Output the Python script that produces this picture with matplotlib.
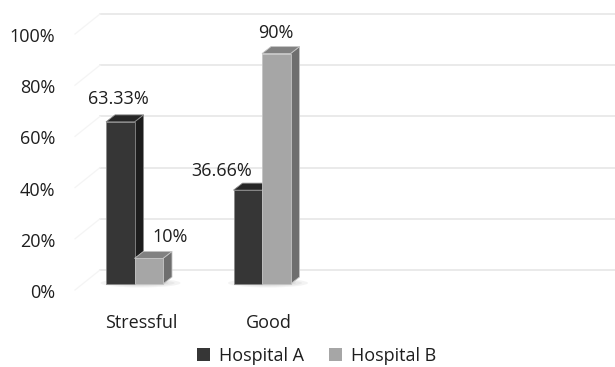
import matplotlib.pyplot as plt
from matplotlib.patches import Polygon, Ellipse

plt.rcParams['font.family'] = ['Open Sans', 'DejaVu Sans']

categories = ['Stressful', 'Good']
hospital_a = [63.33, 36.66]
hospital_b = [10, 90]
labels_a = ['63.33%', '36.66%']
labels_b = ['10%', '90%']
y_ticks = [0, 20, 40, 60, 80, 100]

# pixels per data unit (x: one category, y: one percent)
PX_X = 127.5
PX_Y = 2.56
BAR_W = 28.5 / PX_X
DEPTH_X = 9 / PX_X
DEPTH_Y = 7 / PX_Y

COL_A = ('#363636', '#262626', '#1d1d1d')   # front, top, side
COL_B = ('#a6a6a6', '#818181', '#6e6e6e')
TEXT = '#1e1e1e'

# label shifts in pixels, Excel 3D charts place them a bit off centre
shift_a = [(-2, 23), (-26, 19)]
shift_b = [(21, 21), (0, 21)]

fig = plt.figure(figsize=(6.15, 3.67), dpi=100)
ax = fig.add_axes([0, 0, 1, 1])
ax.set_xlim(-134.5 / PX_X, (615 - 134.5) / PX_X)
ax.set_ylim(-(367 - 284) / PX_Y, 284 / PX_Y)
ax.axis('off')

# back wall gridlines plus the faint side wall strokes
wall_x = (100 - 134.5) / PX_X
side_x = (75 - 134.5) / PX_X
for t in y_ticks:
    yb = t + 14 / PX_Y
    ax.plot([wall_x, ax.get_xlim()[1]], [yb, yb], color='#e4e4e4', lw=1.1, zorder=1)
    ax.plot([side_x, wall_x], [yb - 20 / PX_Y, yb], color='#f4f4f4', lw=0.9, zorder=1)
    ax.text(-79 / PX_X, t - 3.5, '%d%%' % t, ha='right', va='center',
            fontsize=13, color=TEXT)

x = list(range(len(categories)))

# soft shadows on the floor under each group
for i in x:
    for k, a in enumerate([0.08, 0.08, 0.1]):
        ax.add_patch(Ellipse((i + 6 / PX_X, 1 / PX_Y), (80 - 12 * k) / PX_X,
                             (9 - 2 * k) / PX_Y, color='#707070', alpha=a,
                             lw=0, zorder=2))


def draw_bars(lefts, values, cols, edge):
    bars = ax.bar(lefts, values, width=BAR_W, align='edge', color=cols[0],
                  edgecolor=edge, linewidth=0.6, zorder=4)
    for left, v in zip(lefts, values):
        right = left + BAR_W
        top = [(left, v), (right, v), (right + DEPTH_X, v + DEPTH_Y),
               (left + DEPTH_X, v + DEPTH_Y)]
        side = [(right, 0), (right, v), (right + DEPTH_X, v + DEPTH_Y),
                (right + DEPTH_X, DEPTH_Y)]
        ax.add_patch(Polygon(side, closed=True, facecolor=cols[2],
                             edgecolor=edge, lw=0.6, zorder=3))
        ax.add_patch(Polygon(top, closed=True, facecolor=cols[1],
                             edgecolor=edge, lw=0.6, zorder=3))
    return bars


bars_a = draw_bars([i - BAR_W for i in x], hospital_a, COL_A, '#8a8a8a')
# B sits in front of A's side face
for b in bars_a:
    b.set_zorder(3.5)
bars_b = draw_bars(x, hospital_b, COL_B, '#c4c4c4')
for b in bars_b:
    b.set_zorder(5)
for p in ax.patches[-4:]:
    p.set_zorder(4.8)

for i in x:
    ax.annotate(labels_a[i], (i - BAR_W / 2, hospital_a[i]),
                xytext=shift_a[i], textcoords='offset pixels',
                ha='center', va='center', fontsize=13, color=TEXT, zorder=6)
    ax.annotate(labels_b[i], (i + BAR_W / 2, hospital_b[i]),
                xytext=shift_b[i], textcoords='offset pixels',
                ha='center', va='center', fontsize=13, color=TEXT, zorder=6)
    ax.text(i + 6.5 / PX_X, -39 / PX_Y, categories[i], ha='center',
            va='center', fontsize=13, color=TEXT)

leg = fig.legend([bars_a[0], bars_b[0]], ['Hospital A', 'Hospital B'],
                 loc='center', bbox_to_anchor=(0.515, 0.03), ncol=2,
                 frameon=False, fontsize=13, handlelength=0.7,
                 handleheight=0.7, handletextpad=0.5, columnspacing=1.4)
for h in leg.legend_handles:
    h.set_edgecolor('none')
for t in leg.get_texts():
    t.set_color(TEXT)

fig.savefig('out.png', dpi=100)
